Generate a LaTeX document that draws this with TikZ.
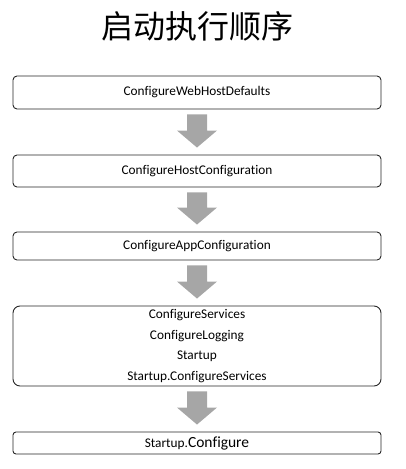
\documentclass[tikz,border=0pt]{standalone}
\usepackage{fontspec}
\setmainfont{Carlito}[Ligatures={NoCommon,NoRare}]
\newfontfamily\cjk{Noto Sans CJK SC}
\usetikzlibrary{calc,positioning}
\definecolor{flowgray}{HTML}{A6A6A6}
\tikzset{
  stage/.style={draw=black!85,line width=0.9pt,rounded corners=4pt,
    minimum width=368pt,inner sep=0pt,align=center,
    font=\fontsize{13.3}{20.5}\selectfont},
  title/.style={font=\cjk\fontsize{32}{36}\selectfont},
  flow/.style={fill=flowgray,draw=none},
}
% block arrow from the bottom of #1 to the top of #2
\newcommand\flowarrow[2]{%
  \fill[flow] ($(#1.south)+(-10,5)$) -- ($(#1.south)+(10,5)$)
    -- ($(#2.north)+(10,-24)$) -- ($(#2.north)+(20,-24)$)
    -- ($(#2.north)+(0,-7)$) -- ($(#2.north)+(-20,-24)$)
    -- ($(#2.north)+(-10,-24)$) -- cycle;}

\begin{document}
\begin{tikzpicture}[x=1pt,y=-1pt]
    \useasboundingbox (0,0) rectangle (406,469);
    \node[title] (head) at (197.5,26) {启动执行顺序};
    % the five stages
    \node[stage,minimum height=33pt] (s1) at (197,92.5) {ConfigureWebHostDefaults};
    \node[stage,minimum height=32pt] (s2) at (197,171) {ConfigureHostConfiguration};
    \node[stage,minimum height=28pt] (s3) at (197,246) {ConfigureAppConfiguration};
    \node[stage,minimum height=80pt,rounded corners=7pt] (s4) at (197,346)
      {ConfigureServices\\ConfigureLogging\\Startup\\Startup.ConfigureServices};
    \node[stage,minimum height=22pt,rounded corners=3pt] (s5) at (197,443)
      {Startup.{\fontsize{15.5}{18}\selectfont Configure}};
    % arrows between them
    \flowarrow{s1}{s2}
    \flowarrow{s2}{s3}
    \flowarrow{s3}{s4}
    \flowarrow{s4}{s5}
\end{tikzpicture}
\end{document}
